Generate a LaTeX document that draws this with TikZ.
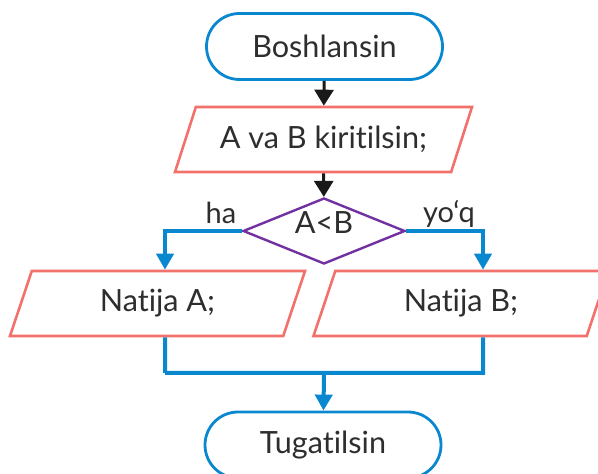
\documentclass[tikz,border=0pt]{standalone}
\usepackage{fontspec}
\setmainfont[Ligatures=NoCommon]{Lato}
\usepackage{xcolor}
\definecolor{termblue}{HTML}{0A88CF}
\definecolor{iored}{HTML}{F2716B}
\definecolor{condpurple}{HTML}{7131A1}
\definecolor{txtgray}{HTML}{2E2E2E}
\usepackage{tikz}
\usetikzlibrary{positioning,arrows.meta,shapes.geometric,shapes.misc}
\tikzset{
  term/.style ={rounded rectangle, draw=termblue, line width=1.4pt, fill=white,
                minimum width=118pt, minimum height=33pt, inner sep=0pt,
                text=txtgray, font=\fontsize{15.3}{17}\selectfont},
  io/.style   ={trapezium, trapezium left angle=52, trapezium right angle=128,
                trapezium stretches body, draw=iored, line width=1.3pt, fill=white,
                minimum height=32.5pt, inner sep=0pt, text=txtgray,
                font=\fontsize{15.3}{17}\selectfont},
  cond/.style ={diamond, draw=condpurple, line width=1.2pt, fill=white,
                minimum width=81pt, minimum height=33pt, inner sep=0pt,
                text height=11pt, text depth=8pt,
                text=txtgray, font=\fontsize{15.3}{17}\selectfont},
  arr/.style  ={-{Triangle[length=8pt,width=9.5pt]}, line width=1.5pt, black!90},
  barr/.style ={-{Triangle[length=8pt,width=8.5pt]}, line width=2pt, termblue},
  bline/.style={line width=2pt, termblue},
  lbl/.style  ={font=\fontsize{14.5}{16}\selectfont, text=txtgray, inner sep=1pt},
}

\begin{document}
\begin{tikzpicture}[x=0.5pt,y=-0.5pt]
  \useasboundingbox (0,0) rectangle (598,474);
  \clip (0,0) rectangle (598,474);
  \node[term] (start) at (324.5,46.5) {Boshlansin};
  \node[io, minimum width=148.5pt] (input) at (323.5,139.5) {A va B kiritilsin;};
  \node[cond] (dec) at (324,231) {\makebox[0pt]{A<B}};
  \node[io, minimum width=147.5pt] (outA) at (157.5,303.5) {Natija A;};
  \node[io, minimum width=147.5pt] (outB) at (461,303.5) {Natija B;};
  \node[term] (stop) at (323,445) {Tugatilsin};
  \node[lbl] (yes) at (221,213) {ha};
  \node[lbl] (no) at (449,214) {yo‘q};
  \coordinate (jl) at (165,373);
  \coordinate (jr) at (483,373);
  \coordinate (jm) at (324,373);

  \draw[arr] (start) -- (input);
  \draw[arr] (input) -- (dec);
  \draw[barr] (dec.west) -| ([xshift=3.75pt]outA.north);
  \draw[barr] (dec.east) -| ([xshift=11pt]outB.north);
  \draw[bline] ([xshift=3.75pt]outA.south) |- (jl) -- (jr) -- ([xshift=11pt]outB.south);
  \draw[barr] (jm) -- (stop);
\end{tikzpicture}
\end{document}
